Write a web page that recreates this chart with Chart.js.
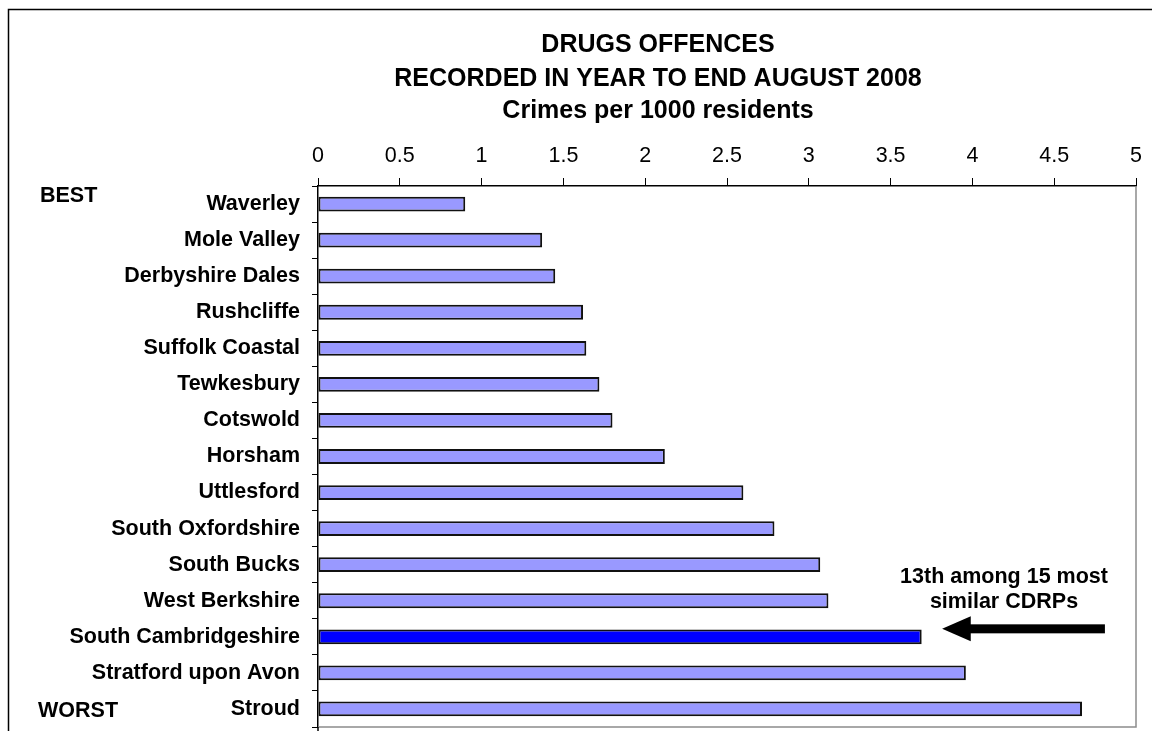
<!DOCTYPE html>
<html>
<head>
<meta charset="utf-8">
<title>Drugs offences</title>
<script src="https://cdn.jsdelivr.net/npm/chart.js@4/dist/chart.umd.min.js"></script>
<style>
  html, body { margin: 0; padding: 0; background: #fff; }
  #wrap { position: relative; width: 1152px; height: 731px; }
  canvas { display: block; }
</style>
</head>
<body>
<div id="wrap"><canvas id="c" width="1152" height="731"></canvas></div>
<script>
// Districts, best (lowest rate) first
const districts = [
  'Waverley', 'Mole Valley', 'Derbyshire Dales', 'Rushcliffe', 'Suffolk Coastal',
  'Tewkesbury', 'Cotswold', 'Horsham', 'Uttlesford', 'South Oxfordshire',
  'South Bucks', 'West Berkshire', 'South Cambridgeshire', 'Stratford upon Avon', 'Stroud'
];
// Drugs offences per 1000 residents, year to end August 2008
const offencesPer1000 = [
  0.90, 1.37, 1.45, 1.62, 1.64,
  1.72, 1.80, 2.12, 2.60, 2.79,
  3.07, 3.12, 3.69, 3.96, 4.67
];
const focusDistrict = 'South Cambridgeshire';
const xTickValues = [0, 0.5, 1, 1.5, 2, 2.5, 3, 3.5, 4, 4.5, 5];
const titleLines = ['DRUGS OFFENCES', 'RECORDED IN YEAR TO END AUGUST 2008', 'Crimes per 1000 residents'];
const rankNote = ['13th among 15 most', 'similar CDRPs'];
const rankEnds = ['BEST', 'WORST'];

const FONT = "'Liberation Sans', Arial, Helvetica, sans-serif";
const BAR_FILL = '#9999FF';
const FOCUS_FILL = '#0000FF';

// Title, frame, BEST/WORST markers, plot border and the pointer arrow
const decorations = {
  id: 'decorations',
  afterDraw(chart) {
    const ctx = chart.ctx;
    const area = chart.chartArea;
    const xs = chart.scales.x;
    const ys = chart.scales.y;
    ctx.save();

    // outer frame (top and left edges)
    ctx.strokeStyle = '#000';
    ctx.lineWidth = 1.5;
    ctx.beginPath();
    ctx.moveTo(8.5, 731);
    ctx.lineTo(8.5, 9.5);
    ctx.lineTo(1152, 9.5);
    ctx.stroke();

    // plot area right and bottom edges
    ctx.strokeStyle = '#8c8c8c';
    ctx.lineWidth = 1.5;
    ctx.beginPath();
    ctx.moveTo(area.right, area.top);
    ctx.lineTo(area.right, area.bottom);
    ctx.lineTo(area.left, area.bottom);
    ctx.stroke();

    // value axis line continues to the bottom edge
    ctx.strokeStyle = '#000';
    ctx.beginPath();
    ctx.moveTo(area.left, area.bottom);
    ctx.lineTo(area.left, 731);
    ctx.stroke();

    // title
    ctx.fillStyle = '#000';
    ctx.textAlign = 'center';
    ctx.textBaseline = 'alphabetic';
    ctx.font = 'bold 25px ' + FONT;
    const titleBase = [52, 86, 118];
    titleLines.forEach((t, i) => ctx.fillText(t, 658, titleBase[i]));

    // BEST / WORST markers
    ctx.font = 'bold 21.5px ' + FONT;
    ctx.textAlign = 'left';
    ctx.fillText(rankEnds[0], 40, 202);
    ctx.fillText(rankEnds[1], 38, 717);

    // rank note
    ctx.textAlign = 'center';
    ctx.fillText(rankNote[0], 1004, 583);
    ctx.fillText(rankNote[1], 1004, 608);

    // arrow pointing at the focus district's bar, sitting slightly above its centre
    const yMid = ys.getPixelForValue(districts.indexOf(focusDistrict)) - 8;
    const tipX = xs.getPixelForValue(3.815);
    const headX = xs.getPixelForValue(3.99);
    const tailX = xs.getPixelForValue(4.81);
    ctx.fillStyle = '#000';
    ctx.fillRect(headX - 1, yMid - 4.5, tailX - headX + 1, 9);
    ctx.beginPath();
    ctx.moveTo(tipX, yMid);
    ctx.lineTo(headX, yMid - 12.5);
    ctx.lineTo(headX, yMid + 12.5);
    ctx.closePath();
    ctx.fill();

    ctx.restore();
  }
};

new Chart(document.getElementById('c'), {
  type: 'bar',
  data: {
    labels: districts,
    datasets: [{
      data: offencesPer1000,
      backgroundColor: districts.map(d => d === focusDistrict ? FOCUS_FILL : BAR_FILL),
      borderColor: '#111',
      borderWidth: 2,
      borderSkipped: false,
      categoryPercentage: 1,
      barPercentage: 0.41
    }]
  },
  options: {
    indexAxis: 'y',
    responsive: false,
    animation: false,
    devicePixelRatio: 1,
    layout: { padding: { left: 0, top: 0, right: 16, bottom: 4 } },
    plugins: {
      legend: { display: false },
      title: { display: false },
      tooltip: { enabled: false }
    },
    scales: {
      x: {
        type: 'linear',
        position: 'top',
        min: 0,
        max: 5,
        afterBuildTicks: s => { s.ticks = xTickValues.map(v => ({ value: v })); },
        afterFit: s => { s.height = 186; s.paddingLeft = 0; s.paddingRight = 0; },
        ticks: {
          color: '#000',
          font: { family: FONT, size: 21.5 },
          padding: 9,
          maxRotation: 0,
          callback: v => String(v)
        },
        grid: { drawOnChartArea: false, drawTicks: true, tickLength: 8, color: '#000', lineWidth: 1 },
        border: { display: true, color: '#000', width: 1.5 }
      },
      y: {
        type: 'category',
        afterFit: s => { s.width = 318; s.paddingTop = 0; s.paddingBottom = 0; },
        ticks: {
          color: '#000',
          font: { family: FONT, size: 21.5, weight: 'bold' },
          padding: 12,
          autoSkip: false
        },
        grid: { offset: true, drawOnChartArea: false, drawTicks: true, tickLength: 6, color: '#000', lineWidth: 1 },
        border: { display: true, color: '#000', width: 1.5 }
      }
    }
  },
  plugins: [decorations]
});
</script>
</body>
</html>
